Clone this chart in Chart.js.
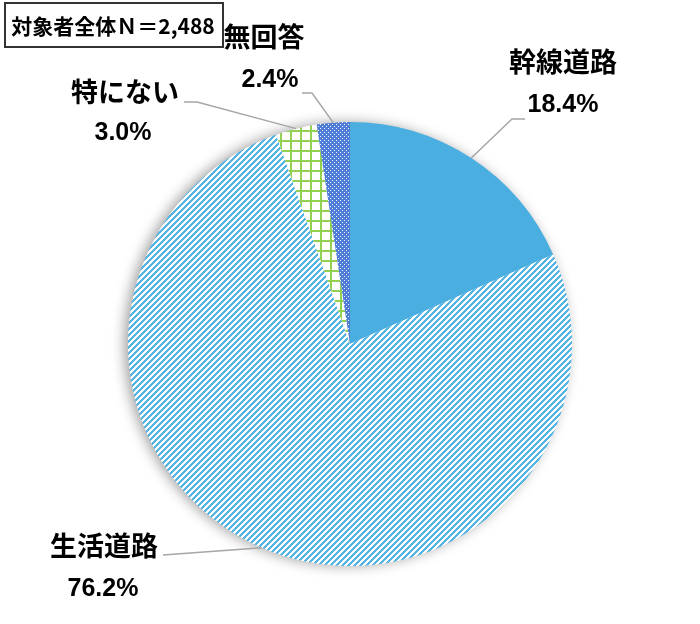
<!DOCTYPE html>
<html>
<head>
<meta charset="utf-8">
<script src="https://cdn.jsdelivr.net/npm/chart.js@4/dist/chart.umd.min.js"></script>
<style>
  body { margin: 0; background: #fff; }
  #wrap { width: 700px; height: 624px; position: relative; }
</style>
</head>
<body>
<div id="wrap"><canvas id="chart" width="700" height="624"></canvas></div>
<script>
// data
const labels = ['幹線道路', '生活道路', '特にない', '無回答'];
const values = [18.4, 76.2, 3.0, 2.4];
const pctLabels = ['18.4%', '76.2%', '3.0%', '2.4%'];
const title = '対象者全体Ｎ＝2,488';

// where each label sits (name center, pct center, leader start, elbow)
const labelPos = [
  { name: [563, 62], pct: [563, 105], start: [525, 119], elbow: [512, 119] },
  { name: [104, 546], pct: [103, 589], start: [163, 555], elbow: null },
  { name: [125, 92], pct: [123, 133], start: [184, 102], elbow: [197, 102] },
  { name: [264, 37], pct: [270, 80], start: [302, 93], elbow: [312, 93] }
];

const BLUE = '#4BAEE0';

// build a pattern from a per-pixel function
function makePattern(w, h, fn) {
  const c = document.createElement('canvas');
  c.width = w; c.height = h;
  const cx = c.getContext('2d');
  const img = cx.createImageData(w, h);
  for (let y = 0; y < h; y++) {
    for (let x = 0; x < w; x++) {
      const col = fn(x, y);
      const i = (y * w + x) * 4;
      img.data[i] = col[0]; img.data[i + 1] = col[1]; img.data[i + 2] = col[2]; img.data[i + 3] = 255;
    }
  }
  cx.putImageData(img, 0, 0);
  return cx.createPattern(c, 'repeat');
}
const white = [255, 255, 255];
const stripes = makePattern(6, 6, (x, y) => ((x + y) % 6 < 3 ? [84, 180, 228] : white));
const grid = makePattern(10, 10, (x, y) => (x % 10 < 2 || y % 10 < 2 ? [146, 208, 80] : white));
const dots = makePattern(4, 4, (x, y) => ((x == 0 && y == 0) || (x == 2 && y == 2) ? white : [78, 125, 215]));

// soft shadow under the pie
const shadowPlugin = {
  id: 'shadow',
  beforeDatasetsDraw(chart) {
    const arc = chart.getDatasetMeta(0).data[0];
    const ctx = chart.ctx;
    ctx.save();
    ctx.shadowColor = 'rgba(0,0,0,0.4)';
    ctx.shadowBlur = 14;
    ctx.shadowOffsetX = -4;
    ctx.shadowOffsetY = 0;
    ctx.fillStyle = '#fff';
    ctx.beginPath();
    ctx.arc(arc.x, arc.y, arc.outerRadius - 1, 0, Math.PI * 2);
    ctx.fill();
    ctx.restore();
  }
};

// labels, leader lines and the N box
const labelPlugin = {
  id: 'labels',
  afterDatasetsDraw(chart) {
    const ctx = chart.ctx;
    const meta = chart.getDatasetMeta(0);
    ctx.save();
    meta.data.forEach((arc, i) => {
      const p = labelPos[i];
      const mid = (arc.startAngle + arc.endAngle) / 2;
      const ex = arc.x + Math.cos(mid) * arc.outerRadius;
      const ey = arc.y + Math.sin(mid) * arc.outerRadius;
      ctx.strokeStyle = '#A6A6A6';
      ctx.lineWidth = 1.5;
      ctx.beginPath();
      ctx.moveTo(p.start[0], p.start[1]);
      if (p.elbow) ctx.lineTo(p.elbow[0], p.elbow[1]);
      ctx.lineTo(ex, ey);
      ctx.stroke();

      ctx.fillStyle = '#000';
      ctx.textAlign = 'center';
      ctx.textBaseline = 'middle';
      ctx.font = 'bold 27px "Noto Sans CJK JP"';
      ctx.fillText(labels[i], p.name[0], p.name[1]);
      ctx.font = 'bold 25px "Liberation Sans", Arial';
      ctx.fillText(pctLabels[i], p.pct[0], p.pct[1]);
    });

    // title box
    ctx.strokeStyle = '#333';
    ctx.lineWidth = 2;
    ctx.strokeRect(5, 3, 218, 44);
    ctx.fillStyle = '#000';
    ctx.textAlign = 'center';
    ctx.textBaseline = 'middle';
    ctx.font = 'bold 21px "Noto Sans CJK JP"';
    ctx.fillText(title, 113, 26);
    ctx.restore();
  }
};

new Chart(document.getElementById('chart'), {
  type: 'pie',
  data: {
    labels: labels,
    datasets: [{
      data: values,
      backgroundColor: [BLUE, stripes, grid, dots],
      borderWidth: 0
    }]
  },
  options: {
    responsive: false,
    animation: false,
    layout: { padding: { top: 122, bottom: 58, left: 128, right: 128 } },
    plugins: {
      legend: { display: false },
      tooltip: { enabled: false }
    }
  },
  plugins: [shadowPlugin, labelPlugin]
});
</script>
</body>
</html>
